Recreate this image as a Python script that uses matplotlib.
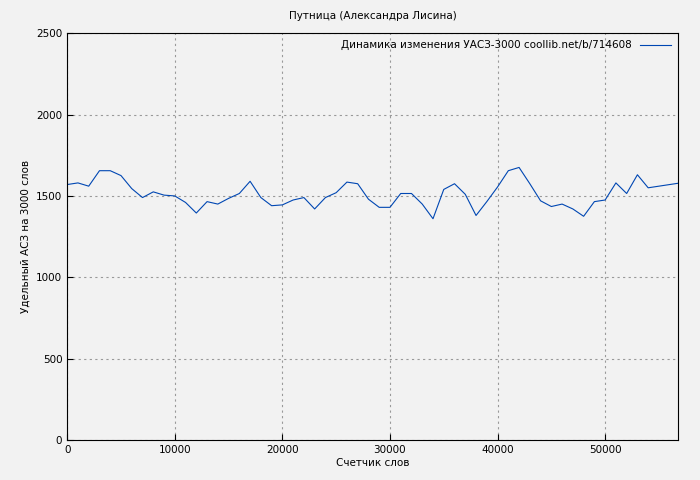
import matplotlib
matplotlib.use("Agg")
import matplotlib.pyplot as plt

words = list(range(0, 58000, 1000))
values = [1570,1580,1560,1655,1655,1625,1545,1490,1525,1505,1500,1460,1395,1465,1450,1485,1515,1590,1490,1440,
          1445,1475,1490,1420,1490,1520,1585,1575,1480,1430,1430,1515,1515,1450,1360,1540,1575,1510,1380,1465,
          1555,1655,1675,1575,1470,1435,1450,1420,1375,1465,1475,1580,1515,1630,1550,1560,1570,1580]

fig = plt.figure(figsize=(7, 4.8), dpi=100, facecolor="#f2f2f2")
ax = fig.add_axes([0.096, 0.083, 0.873, 0.848])
ax.set_facecolor("#f2f2f2")
ax.plot(words, values, color="#0047b3", lw=0.8, label="Динамика изменения УАСЗ-3000 coollib.net/b/714608")
ax.set_xlim(0, 56800)
ax.set_ylim(0, 2500)
ax.set_xticks(range(0, 56800, 10000))
ax.set_yticks(range(0, 2501, 500))
ax.grid(True, color="#999999", ls=(0, (2, 3)), lw=0.8)
ax.tick_params(labelsize=7.5, direction="in", length=4)
ax.set_title("Путница (Александра Лисина)", fontsize=7.5, pad=10)
ax.set_xlabel("Счетчик слов", fontsize=7.5, labelpad=2)
ax.set_ylabel("Удельный АСЗ на 3000 слов", fontsize=7.5)
leg = ax.legend(loc="upper right", fontsize=7.5, frameon=False, markerfirst=False, handlelength=3,
                borderaxespad=0.3)
fig.savefig("out.png", facecolor=fig.get_facecolor())
